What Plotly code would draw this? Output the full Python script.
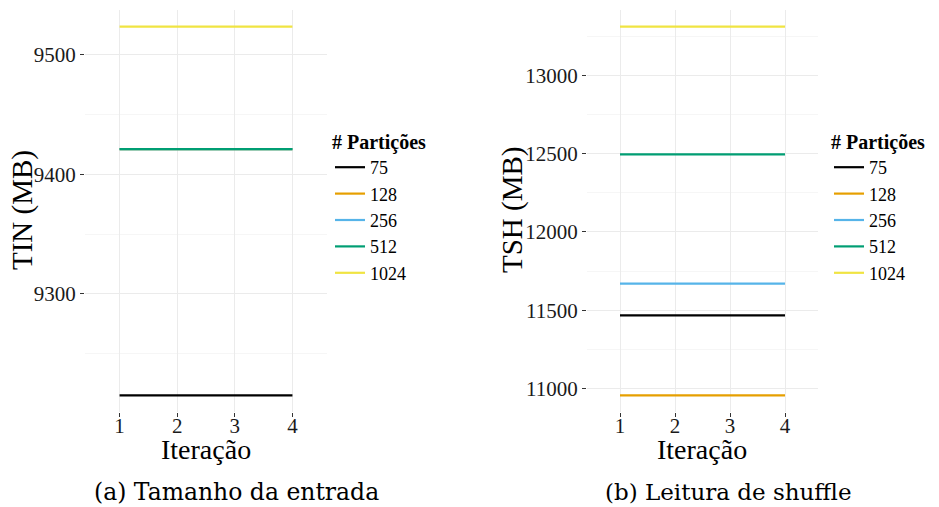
import plotly.graph_objects as go

# Iterations and partition counts
iteracoes = [1, 2, 3, 4]
particoes = ["75", "128", "256", "512", "1024"]
cores = ["#000000", "#E69F00", "#56B4E9", "#009E73", "#F0E442"]

# Input size (MB) per partition count, one value per iteration
tin_75 = [9215, 9215, 9215, 9215]
tin_128 = [9421, 9421, 9421, 9421]
tin_256 = [9421, 9421, 9421, 9421]
tin_512 = [9421, 9421, 9421, 9421]
tin_1024 = [9523.5, 9523.5, 9523.5, 9523.5]

# Shuffle read (MB) per partition count, one value per iteration
tsh_75 = [11468, 11468, 11468, 11468]
tsh_128 = [10957, 10957, 10957, 10957]
tsh_256 = [11671, 11671, 11671, 11671]
tsh_512 = [12496, 12496, 12496, 12496]
tsh_1024 = [13311, 13311, 13311, 13311]

tin = [tin_75, tin_128, tin_256, tin_512, tin_1024]
tsh = [tsh_75, tsh_128, tsh_256, tsh_512, tsh_1024]

SERIF = "Liberation Serif"
CAPTION_FONT = "DejaVu Serif"
W, H = 939, 507

fig = go.Figure()

for nome, cor, ys in zip(particoes, cores, tin):
    fig.add_trace(go.Scatter(x=iteracoes, y=ys, mode="lines", name=nome,
                             line=dict(color=cor, width=2.2),
                             xaxis="x", yaxis="y", legend="legend"))
for nome, cor, ys in zip(particoes, cores, tsh):
    fig.add_trace(go.Scatter(x=iteracoes, y=ys, mode="lines", name=nome,
                             line=dict(color=cor, width=2.2),
                             xaxis="x2", yaxis="y2", legend="legend2"))


def expanded(series, frac=0.045):
    lo = min(min(s) for s in series)
    hi = max(max(s) for s in series)
    pad = (hi - lo) * frac
    return [lo - pad, hi + pad]


def px_x(p):
    return p / W


def px_y(p):
    return 1 - p / H


grid = "#ebebeb"
minor_grid = "#f6f6f6"
tickfont = dict(family=SERIF, size=21, color="#1a1a1a")

xaxis_common = dict(range=[0.4, 4.6], tickvals=iteracoes, showgrid=True, gridcolor=grid,
                    gridwidth=1, zeroline=False, showline=False, ticks="outside",
                    ticklen=4, tickcolor="#333333", tickwidth=1, tickfont=tickfont,
                    ticklabelstandoff=-9)

legend_common = dict(xanchor="left", yanchor="top",
                     title=dict(text="<b># Partições</b>",
                                font=dict(family=SERIF, size=20, color="#000")),
                     font=dict(family=SERIF, size=18, color="#000"),
                     bgcolor="rgba(0,0,0,0)", tracegroupgap=0, itemwidth=30)

fig.update_layout(
    width=W, height=H,
    margin=dict(l=0, r=0, t=0, b=0),
    paper_bgcolor="white", plot_bgcolor="white",
    xaxis=dict(domain=[px_x(85), px_x(327)], anchor="y", **xaxis_common),
    xaxis2=dict(domain=[px_x(587), px_x(818)], anchor="y2", **xaxis_common),
    yaxis=dict(domain=[px_y(412), px_y(10)], anchor="x", range=expanded(tin),
               dtick=100, tick0=0, tickformat="d", showgrid=True, gridcolor=grid,
               zeroline=False, showline=False, ticks="outside", ticklen=4,
               tickcolor="#333333", tickfont=tickfont,
               minor=dict(dtick=50, tick0=0, showgrid=True, gridcolor=minor_grid, ticks="")),
    yaxis2=dict(domain=[px_y(412), px_y(10)], anchor="x2", range=expanded(tsh),
                dtick=500, tick0=0, tickformat="d", showgrid=True, gridcolor=grid,
                zeroline=False, showline=False, ticks="outside", ticklen=4,
                tickcolor="#333333", tickfont=tickfont,
                minor=dict(dtick=250, tick0=0, showgrid=True, gridcolor=minor_grid, ticks="")),
    legend=dict(x=px_x(330), y=px_y(123), **legend_common),
    legend2=dict(x=px_x(829), y=px_y(123), **legend_common),
    showlegend=True,
)

anns = [
    dict(text="TIN (MB)", x=px_x(22), y=px_y(210), textangle=-90, font=dict(size=29)),
    dict(text="TSH (MB)", x=px_x(512), y=px_y(210), textangle=-90, font=dict(size=29)),
    dict(text="Iteração", x=px_x(206), y=px_y(449), font=dict(size=28)),
    dict(text="Iteração", x=px_x(702), y=px_y(449), font=dict(size=28)),
    dict(text="(a) Tamanho da entrada", x=px_x(236), y=px_y(492),
         font=dict(size=23.5, family=CAPTION_FONT)),
    dict(text="(b) Leitura de shuffle", x=px_x(728), y=px_y(492),
         font=dict(size=23, family=CAPTION_FONT)),
]
for a in anns:
    f = dict(family=SERIF, color="#000")
    f.update(a.pop("font"))
    fig.add_annotation(xref="paper", yref="paper", showarrow=False,
                       xanchor="center", yanchor="middle", font=f, **a)

fig.write_html("out.html")
